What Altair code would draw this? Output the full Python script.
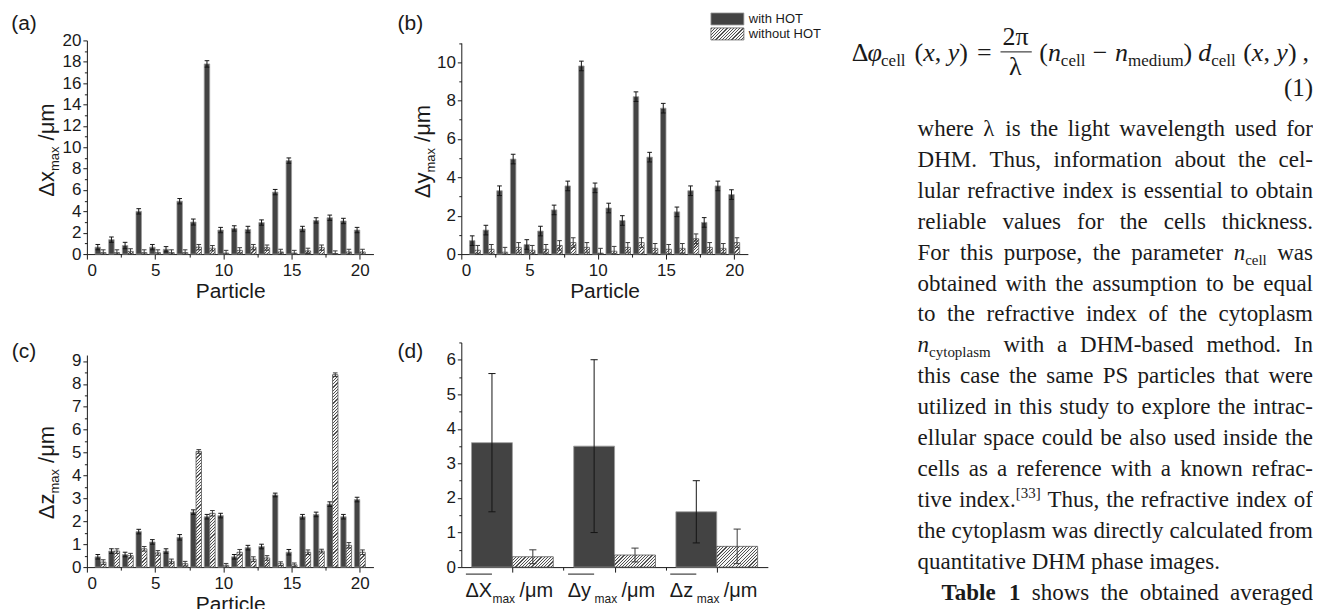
import altair as alt

SANS = "Liberation Sans"
SERIF = "Liberation Serif"
INK = "#1a1a1a"

# ------------------------------------------------------------------
# Data
# ------------------------------------------------------------------
particles = [1, 2, 3, 4, 5, 6, 7, 8, 9, 10, 11, 12, 13, 14, 15, 16, 17, 18, 19, 20]

dx_with = [0.65, 1.35, 0.8, 4.0, 0.65, 0.45, 4.95, 3.0, 17.8, 2.25, 2.4, 2.3, 2.95, 5.8, 8.75, 2.35, 3.15, 3.4, 3.1, 2.25]
dx_with_err = [0.25, 0.25, 0.3, 0.25, 0.25, 0.25, 0.25, 0.28, 0.3, 0.25, 0.25, 0.3, 0.25, 0.25, 0.25, 0.25, 0.25, 0.25, 0.25, 0.25]
dx_without = [0.15, 0.15, 0.25, 0.15, 0.15, 0.15, 0.15, 0.65, 0.55, 0.1, 0.35, 0.65, 0.6, 0.2, 0.1, 0.3, 0.6, 0.05, 0.2, 0.2]
dx_without_err = [0.25, 0.25, 0.25, 0.25, 0.25, 0.25, 0.25, 0.25, 0.25, 0.25, 0.25, 0.25, 0.25, 0.25, 0.25, 0.25, 0.25, 0.25, 0.25, 0.25]

dy_with = [0.7, 1.25, 3.3, 4.95, 0.5, 1.2, 2.3, 3.55, 9.8, 3.45, 2.4, 1.75, 8.2, 5.05, 7.6, 2.2, 3.3, 1.65, 3.55, 3.1]
dy_with_err = [0.25, 0.25, 0.25, 0.25, 0.25, 0.25, 0.25, 0.25, 0.25, 0.25, 0.25, 0.25, 0.25, 0.25, 0.25, 0.25, 0.25, 0.25, 0.25, 0.25]
dy_without = [0.2, 0.25, 0.1, 0.35, 0.2, 0.25, 0.45, 0.6, 0.35, 0.05, 0.15, 0.35, 0.6, 0.3, 0.25, 0.3, 0.8, 0.35, 0.3, 0.6]
dy_without_err = [0.25, 0.25, 0.25, 0.25, 0.25, 0.25, 0.25, 0.25, 0.25, 0.25, 0.25, 0.25, 0.25, 0.25, 0.25, 0.25, 0.25, 0.25, 0.25, 0.25]

dz_with = [0.45, 0.7, 0.55, 1.55, 1.1, 0.7, 1.3, 2.4, 2.2, 2.25, 0.45, 0.85, 0.9, 3.15, 0.65, 2.2, 2.3, 2.75, 2.2, 2.95]
dz_with_err = [0.1, 0.1, 0.1, 0.1, 0.1, 0.1, 0.12, 0.1, 0.1, 0.1, 0.1, 0.1, 0.1, 0.08, 0.12, 0.1, 0.1, 0.1, 0.1, 0.1]
dz_without = [0.22, 0.7, 0.5, 0.8, 0.62, 0.25, 0.15, 5.05, 2.35, 0.08, 0.65, 0.35, 0.4, 0.15, 0.1, 0.65, 0.7, 8.4, 0.95, 0.65]
dz_without_err = [0.1, 0.1, 0.1, 0.1, 0.1, 0.1, 0.1, 0.08, 0.12, 0.08, 0.12, 0.1, 0.1, 0.08, 0.08, 0.1, 0.08, 0.08, 0.12, 0.1]

avg_groups = [1, 2, 3]
avg_names = ["ΔX", "Δy", "Δz"]
avg_with = [3.6, 3.5, 1.6]
avg_with_err = [2.0, 2.5, 0.9]
avg_without = [0.3, 0.35, 0.6]
avg_without_err = [0.2, 0.2, 0.5]

series_names = ["with HOT", "without HOT"]

# ------------------------------------------------------------------
# Styles
# ------------------------------------------------------------------
DARK = "#434343"
DARK_EDGE = "#9a9a9a"
HATCH_EDGE = "#5a5a5a"
ERR_DARK = "#151515"
ERR_LIGHT = "#3a3a3a"


def hatch(w, h, period=3.2, frac=0.36, ink="#505050", paper="#f6f6f6"):
    """Diagonal '/' hatching as a bounding-box linear gradient."""
    w = max(w, 0.5)
    h = max(h, 0.5)
    span = w + h
    n = max(1, int(round(span / period)))
    k = span / (w * w + h * h)
    stops = []
    for j in range(n):
        a, b, c = j / n, (j + frac) / n, (j + 1) / n
        stops += [
            {"offset": round(a, 5), "color": ink},
            {"offset": round(b, 5), "color": ink},
            {"offset": round(b, 5), "color": paper},
            {"offset": round(c, 5), "color": paper},
        ]
    return {"gradient": "linear", "x1": 0, "y1": 0, "x2": round(w * k, 5), "y2": round(h * k, 5), "stops": stops}


def bar_table(cats, with_v, with_e, wo_v, wo_e, pxu, pyu, cap):
    recs = []
    for c, v, e in zip(cats, with_v, with_e):
        recs.append({"x0": c - 0.4, "x1": c, "xc": c - 0.2, "c0": c - 0.2 - cap, "c1": c - 0.2 + cap,
                     "v": v, "lo": max(v - e, 0), "hi": v + e,
                     "fill": DARK, "edge": DARK_EDGE, "ec": ERR_DARK, "series": series_names[0]})
    for c, v, e in zip(cats, wo_v, wo_e):
        recs.append({"x0": c, "x1": c + 0.4, "xc": c + 0.2, "c0": c + 0.2 - cap, "c1": c + 0.2 + cap,
                     "v": v, "lo": max(v - e, 0), "hi": v + e,
                     "fill": hatch(0.4 * pxu, v * pyu), "edge": HATCH_EDGE, "ec": ERR_LIGHT,
                     "series": series_names[1]})
    return recs


def bar_layers(recs, xs, ys, x_major, x_minor, y_major, y_minor):
    base = alt.Chart(alt.Data(values=recs))
    bars = base.mark_bar(strokeWidth=0.8).encode(
        x=alt.X("x0:Q", scale=xs, axis=x_major), x2="x1:Q",
        y=alt.Y("v:Q", scale=ys, axis=y_major), y2=alt.datum(0),
        fill=alt.Fill("fill:N", scale=None), stroke=alt.Stroke("edge:N", scale=None))
    err = base.mark_rule(strokeWidth=1).encode(
        x=alt.X("xc:Q", scale=xs, axis=None),
        y=alt.Y("lo:Q", scale=ys, axis=None), y2="hi:Q",
        stroke=alt.Stroke("ec:N", scale=None))
    cap_hi = base.mark_rule(strokeWidth=1).encode(
        x=alt.X("c0:Q", scale=xs, axis=None), x2="c1:Q",
        y=alt.Y("hi:Q", scale=ys, axis=None),
        stroke=alt.Stroke("ec:N", scale=None))
    cap_lo = base.mark_rule(strokeWidth=1).encode(
        x=alt.X("c0:Q", scale=xs, axis=None), x2="c1:Q",
        y=alt.Y("lo:Q", scale=ys, axis=None),
        stroke=alt.Stroke("ec:N", scale=None))
    minor = base.mark_point(opacity=0).encode(
        x=alt.X("xc:Q", scale=xs, axis=x_minor),
        y=alt.Y("v:Q", scale=ys, axis=y_minor))
    return [bars, err, cap_hi, cap_lo, minor]


ONE = alt.Data(values=[{"k": 0}])


def vtext(text, x, y, size, angle=0, align="left", baseline="alphabetic", font=SANS, style="normal", weight="normal"):
    return alt.Chart(ONE).mark_text(
        text=text, fontSize=size, font=font, angle=angle, align=align, baseline=baseline,
        color=INK, fontStyle=style, fontWeight=weight).encode(x=alt.value(x), y=alt.value(y))


def y_title(letter, bx, sx, y0):
    w1 = 1.168 * 22
    w2 = 1.889 * 13
    sp = 0.278 * 22
    return [
        vtext("Δ" + letter, bx, y0, 22, angle=270),
        vtext("max", sx, y0 - w1, 13, angle=270),
        vtext("/μm", bx, y0 - w1 - w2 - sp, 22, angle=270),
    ]


def x_axes(major_vals, minor_vals, title, labels=True):
    major = alt.Axis(values=major_vals, format="d", title=title, tickSize=5, labelPadding=3,
                     titleY=26, titleBaseline="top", grid=False, orient="bottom", labels=labels)
    minor = alt.Axis(values=minor_vals, labels=False, tickSize=3, domain=False, title=None,
                     grid=False, orient="bottom")
    return major, minor


def y_axes(major_vals, minor_vals):
    major = alt.Axis(values=major_vals, format="d", title=None, tickSize=4, labelPadding=2,
                     grid=False, orient="left")
    minor = alt.Axis(values=minor_vals, labels=False, tickSize=2.5, domain=False, title=None,
                     grid=False, orient="left")
    return major, minor


# ------------------------------------------------------------------
# Panels (a)-(c)
# ------------------------------------------------------------------
W = 287
XDOM = [0, 21]
PXU = W / (XDOM[1] - XDOM[0])
XS = alt.Scale(domain=XDOM, nice=False, zero=False)
XMAJ, XMIN = x_axes([0, 5, 10, 15, 20], [2.5, 7.5, 12.5, 17.5], "Particle")


def particle_panel(with_v, with_e, wo_v, wo_e, ydom, yrange, height, ymaj, ymin, extra):
    pyu = (yrange[0] - yrange[1]) / (ydom[1] - ydom[0])
    ys = alt.Scale(domain=ydom, range=yrange, nice=False, zero=False)
    ya, yb = y_axes(ymaj, ymin)
    recs = bar_table(particles, with_v, with_e, wo_v, wo_e, PXU, pyu, 0.17)
    layers = bar_layers(recs, XS, ys, XMAJ, XMIN, ya, yb) + extra
    return alt.layer(*layers).resolve_axis(x="independent", y="independent").properties(width=W, height=height)


panel_a = particle_panel(
    dx_with, dx_with_err, dx_without, dx_without_err,
    [0, 20], [214, 0], 214,
    [0, 2, 4, 6, 8, 10, 12, 14, 16, 18, 20], [1, 3, 5, 7, 9, 11, 13, 15, 17, 19],
    [vtext("(a)", -63, -16.5, 21, align="center", baseline="middle")] + y_title("x", -33, -28, 156.5))

# ---- panel (b) also carries the legend and the text column ----
OX, OY = 461, 39.5  # page position of panel (b) plot origin

SIZES = {"r": 23, "i": 23, "b": 23, "sub": 15, "sup": 15, "er": 26, "ei": 26, "esub": 17}
DYS = {"r": 0, "i": 0, "b": 0, "sub": 5, "sup": -9, "er": 0, "ei": 0, "esub": 5}
TR = {' ': 250, '!': 333, '(': 333, ')': 333, ',': 250, '-': 333, '.': 250, '/': 278, ':': 278, ';': 278,
      '=': 564, '[': 333, ']': 333, '0': 500, '1': 500, '2': 500, '3': 500, '4': 500, '5': 500, '6': 500,
      '7': 500, '8': 500, '9': 500,
      'A': 722, 'B': 667, 'C': 667, 'D': 722, 'E': 611, 'F': 556, 'G': 722, 'H': 722, 'I': 333, 'J': 389,
      'K': 722, 'L': 611, 'M': 889, 'N': 722, 'O': 722, 'P': 556, 'Q': 722, 'R': 667, 'S': 556, 'T': 611,
      'U': 722, 'V': 722, 'W': 944, 'X': 722, 'Y': 722, 'Z': 611,
      'a': 444, 'b': 500, 'c': 444, 'd': 500, 'e': 444, 'f': 333, 'g': 500, 'h': 500, 'i': 278, 'j': 278,
      'k': 500, 'l': 278, 'm': 778, 'n': 500, 'o': 500, 'p': 500, 'q': 500, 'r': 333, 's': 389, 't': 278,
      'u': 500, 'v': 500, 'w': 722, 'x': 500, 'y': 500, 'z': 444,
      'λ': 550, 'Δ': 612, 'π': 550, '−': 564, 'φ': 520}
TI = {'n': 500, 'x': 444, 'y': 444, 'd': 500, 'φ': 520}
TB = {'T': 667, 'a': 500, 'b': 556, 'l': 278, 'e': 444, '1': 500, ' ': 250}


def tw(text, style):
    tab = TI if style in ("i", "ei") else TB if style == "b" else TR
    return sum(tab.get(ch, TR.get(ch, 500)) for ch in text) / 1000.0 * SIZES[style]


buckets = {k: [] for k in SIZES}


def put(style, text, x, y):
    buckets[style].append({"px": round(x - OX, 2), "py": round(y - OY + DYS[style], 2), "t": text})


def words(s):
    return [[("r", w)] for w in s.split(" ")]


L_EDGE, R_EDGE = 918, 1314
BODY = [
    words("where λ is the light wavelength used for"),
    words("DHM. Thus, information about the cel-"),
    words("lular refractive index is essential to obtain"),
    words("reliable values for the cells thickness."),
    words("For this purpose, the parameter") + [[("i", "n"), ("sub", "cell")]] + words("was"),
    words("obtained with the assumption to be equal"),
    words("to the refractive index of the cytoplasm"),
    [[("i", "n"), ("sub", "cytoplasm")]] + words("with a DHM-based method. In"),
    words("this case the same PS particles that were"),
    words("utilized in this study to explore the intrac-"),
    words("ellular space could be also used inside the"),
    words("cells as a reference with a known refrac-"),
    words("tive") + [[("r", "index."), ("sup", "[33]")]] + words("Thus, the refractive index of"),
    words("the cytoplasm was directly calculated from"),
    words("quantitative DHM phase images."),
    [[("b", "Table")], [("b", "1")]] + words("shows the obtained averaged"),
]
JUSTIFY = [True] * 14 + [False, True]
INDENT = [0] * 15 + [24]

for li, (tokens, just, ind) in enumerate(zip(BODY, JUSTIFY, INDENT)):
    y = 135 + 31 * li
    widths = [sum(tw(t, s) for s, t in tok) for tok in tokens]
    space = tw(" ", "r")
    left = L_EDGE + ind
    natural = sum(widths) + space * (len(tokens) - 1)
    gap = space
    if just and len(tokens) > 1:
        gap = space + (R_EDGE - left - natural) / (len(tokens) - 1)
    x = left
    for tok in tokens:
        for s, t in tok:
            put(s, t, x, y)
            x += tw(t, s)
        x += gap

# equation (1)
EQ = [("er", "Δ"), ("ei", "φ"), ("esub", "cell"), ("gap", 0.3), ("er", "("), ("ei", "x"), ("er", ", "), ("ei", "y"),
      ("er", ")"), ("gap", 0.3), ("er", "="), ("gap", 0.3), ("frac", None), ("gap", 0.25), ("er", "("), ("ei", "n"),
      ("esub", "cell"), ("gap", 0.25), ("er", "−"), ("gap", 0.25), ("ei", "n"), ("esub", "medium"), ("er", ")"),
      ("gap", 0.2), ("ei", "d"), ("esub", "cell"), ("gap", 0.25), ("er", "("), ("ei", "x"), ("er", ", "), ("ei", "y"),
      ("er", ")"), ("gap", 0.2), ("er", ",")]
EQ_X0, EQ_X1, EQ_Y = 852, 1310, 60
FRAC_NUM_Y, FRAC_BAR_Y, FRAC_DEN_Y = 44, 51, 74
EQ_FS = SIZES["er"]
frac_w = max(tw("2π", "er"), tw("λ", "er")) + 4
nat = 0.0
gsum = 0.0
for s, t in EQ:
    if s == "gap":
        nat += t * EQ_FS
        gsum += t * EQ_FS
    elif s == "frac":
        nat += frac_w
    else:
        nat += tw(t, s)
gscale = 1 + (EQ_X1 - EQ_X0 - nat) / gsum
x = EQ_X0
frac_x = None
for s, t in EQ:
    if s == "gap":
        x += t * EQ_FS * gscale
    elif s == "frac":
        frac_x = x
        put("er", "2π", x + (frac_w - tw("2π", "er")) / 2, FRAC_NUM_Y)
        put("er", "λ", x + (frac_w - tw("λ", "er")) / 2, FRAC_DEN_Y)
        x += frac_w
    else:
        put(s, t, x, EQ_Y)
        x += tw(t, s)

STYLE_MARK = {
    "r": dict(fontSize=23, fontStyle="normal", fontWeight="normal"),
    "i": dict(fontSize=23, fontStyle="italic", fontWeight="normal"),
    "b": dict(fontSize=23, fontStyle="normal", fontWeight="bold"),
    "sub": dict(fontSize=15, fontStyle="normal", fontWeight="normal"),
    "sup": dict(fontSize=15, fontStyle="normal", fontWeight="normal"),
    "er": dict(fontSize=26, fontStyle="normal", fontWeight="normal"),
    "ei": dict(fontSize=26, fontStyle="italic", fontWeight="normal"),
    "esub": dict(fontSize=17, fontStyle="normal", fontWeight="normal"),
}
text_layers = []
for s, recs in buckets.items():
    if not recs:
        continue
    text_layers.append(
        alt.Chart(alt.Data(values=recs)).mark_text(
            font=SERIF, align="left", baseline="alphabetic", color=INK, **STYLE_MARK[s]
        ).encode(x=alt.X("px:Q", scale=None, axis=None), y=alt.Y("py:Q", scale=None, axis=None), text="t:N"))

frac_bar = alt.Chart(ONE).mark_rule(color=INK, strokeWidth=1).encode(
    x=alt.value(frac_x - OX), x2=alt.value(frac_x + frac_w - OX), y=alt.value(FRAC_BAR_Y - OY))
eq_num = vtext("(1)", R_EDGE - OX, 95 - OY, 25, align="right", font=SERIF)

# legend
leg = [
    alt.Chart(ONE).mark_rect(fill=DARK, stroke=DARK_EDGE, strokeWidth=0.8).encode(
        x=alt.value(711 - OX), x2=alt.value(744 - OX), y=alt.value(12 - OY), y2=alt.value(24 - OY)),
    alt.Chart(ONE).mark_rect(fill=hatch(33, 12), stroke=HATCH_EDGE, strokeWidth=0.8).encode(
        x=alt.value(711 - OX), x2=alt.value(744 - OX), y=alt.value(27 - OY), y2=alt.value(39 - OY)),
    vtext(series_names[0], 749 - OX, 18 - OY, 13, baseline="middle"),
    vtext(series_names[1], 749 - OX, 33 - OY, 13, baseline="middle"),
]

panel_b = particle_panel(
    dy_with, dy_with_err, dy_without, dy_without_err,
    [0, 11], [214, 2.5], 214,
    [0, 2, 4, 6, 8, 10], [1, 3, 5, 7, 9, 11],
    [vtext("(b)", -51, -16.5, 21, align="center", baseline="middle")] + y_title("y", -31, -26, 158)
    + leg + text_layers + [frac_bar, eq_num])

panel_c = particle_panel(
    dz_with, dz_with_err, dz_without, dz_without_err,
    [0, 9.26], [225, 12.6], 225,
    [0, 1, 2, 3, 4, 5, 6, 7, 8, 9], [0.5, 1.5, 2.5, 3.5, 4.5, 5.5, 6.5, 7.5, 8.5],
    [vtext("(c)", -63, 10, 21, align="center", baseline="middle")] + y_title("z", -33, -28, 177))

# ------------------------------------------------------------------
# Panel (d)
# ------------------------------------------------------------------
D_W, D_H = 307, 225
D_XDOM = [0.5, 3.5]
D_PXU = D_W / (D_XDOM[1] - D_XDOM[0])
D_XS = alt.Scale(domain=D_XDOM, nice=False, zero=False)
D_YS = alt.Scale(domain=[0, 6.5], range=[225, 0], nice=False, zero=False)
d_xmaj = alt.Axis(values=[1, 2, 3], labels=False, title=None, tickSize=5, grid=False, orient="bottom")
d_xmin = alt.Axis(values=[1.5, 2.5], labels=False, title=None, tickSize=3, domain=False, grid=False, orient="bottom")
d_ymaj, d_ymin = y_axes([0, 1, 2, 3, 4, 5, 6], [0.5, 1.5, 2.5, 3.5, 4.5, 5.5, 6.5])
d_recs = bar_table(avg_groups, avg_with, avg_with_err, avg_without, avg_without_err, D_PXU, 225 / 6.5, 0.035)

lab_data = alt.Chart(alt.Data(values=[{"g": g, "a": a} for g, a in zip(avg_groups, avg_names)]))
d_labels = [
    lab_data.mark_text(dx=-47, align="left", baseline="alphabetic", fontSize=20, font=SANS, color=INK).encode(
        x=alt.X("g:Q", scale=D_XS, axis=None), y=alt.value(255), text="a:N"),
    lab_data.mark_text(dx=-20, align="left", baseline="alphabetic", fontSize=12, font=SANS, color=INK, text="max").encode(
        x=alt.X("g:Q", scale=D_XS, axis=None), y=alt.value(261)),
    lab_data.mark_text(dx=7, align="left", baseline="alphabetic", fontSize=20, font=SANS, color=INK, text="/μm").encode(
        x=alt.X("g:Q", scale=D_XS, axis=None), y=alt.value(255)),
    lab_data.transform_calculate(o0="datum.g - 0.455", o1="datum.g - 0.2").mark_rule(color=INK, strokeWidth=1).encode(
        x=alt.X("o0:Q", scale=D_XS, axis=None), x2="o1:Q", y=alt.value(232)),
    vtext("(d)", -51, 10, 21, align="center", baseline="middle"),
]
panel_d = alt.layer(*(bar_layers(d_recs, D_XS, D_YS, d_xmaj, d_xmin, d_ymaj, d_ymin) + d_labels)).resolve_axis(
    x="independent", y="independent").properties(width=D_W, height=D_H)

# ------------------------------------------------------------------
chart = alt.concat(
    panel_a, panel_b, panel_c, panel_d,
    columns=2, spacing={"row": 88.5, "column": 88}, bounds="flush", align="each",
).resolve_scale(x="independent", y="independent").properties(
    padding={"left": 3, "top": 4, "right": 0, "bottom": 0}
).configure_view(stroke=None).configure_axis(
    labelFont=SANS, labelFontSize=17, labelColor=INK, titleFont=SANS, titleFontSize=21,
    titleFontWeight="normal", titleColor=INK, domainColor=INK, tickColor=INK, grid=False,
)

chart.save("out.html", embed_options={"renderer": "svg", "actions": False})
